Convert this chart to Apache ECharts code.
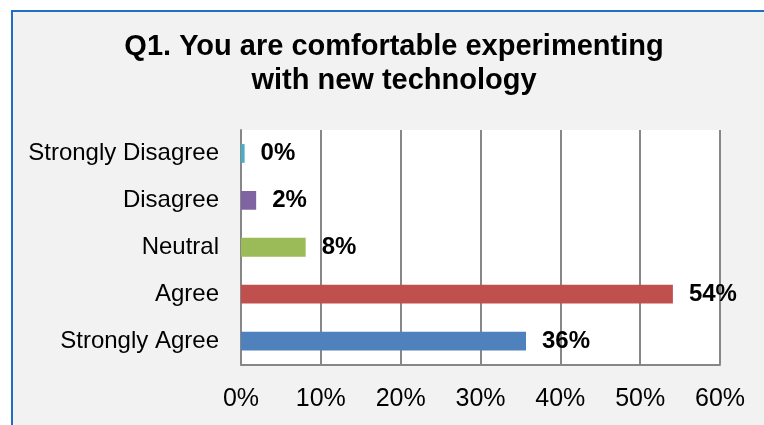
<!DOCTYPE html>
<html>
<head>
<meta charset="utf-8">
<style>
  html, body { margin: 0; padding: 0; background: #ffffff; }
  #chart { width: 764px; height: 425px; }
</style>
<script src="https://cdn.jsdelivr.net/npm/echarts@6/dist/echarts.min.js"></script>
</head>
<body>
<div id="chart"></div>
<script>
const titleText = 'Q1. You are comfortable experimenting\nwith new technology';
const categories = ['Strongly Agree', 'Agree', 'Neutral', 'Disagree', 'Strongly Disagree'];
const values = [35.7, 54.1, 8.1, 1.9, 0.45];
const barColors = ['#4f81bd', '#c0504d', '#9bbb59', '#8064a2', '#4bacc6'];
const tickValues = [0, 10, 20, 30, 40, 50, 60];

const FONT = "'Liberation Sans', Arial, sans-serif";
const chart = echarts.init(document.getElementById('chart'), null, { renderer: 'canvas' });

chart.setOption({
  backgroundColor: '#ffffff',
  animation: false,
  graphic: [{
    type: 'rect',
    z: -10,
    silent: true,
    shape: { x: 12, y: 11, width: 820, height: 480 },
    style: { fill: '#f2f2f2', stroke: '#1f6fc5', lineWidth: 2 }
  }],
  title: {
    text: titleText,
    left: 394,
    top: 30,
    textAlign: 'center',
    padding: 0,
    textStyle: {
      fontFamily: FONT,
      fontSize: 29,
      fontWeight: 'bold',
      color: '#000000',
      lineHeight: 34
    }
  },
  grid: {
    left: 241,
    right: 44,
    top: 130,
    bottom: 60.5,
    show: true,
    backgroundColor: '#ffffff',
    borderWidth: 0,
    containLabel: false
  },
  xAxis: {
    type: 'value',
    min: tickValues[0],
    max: tickValues[tickValues.length - 1],
    interval: 10,
    axisLine: { show: true, lineStyle: { color: '#878787', width: 2 } },
    axisTick: { show: false },
    splitLine: { show: true, lineStyle: { color: '#878787', width: 2 } },
    axisLabel: {
      margin: 22,
      fontFamily: FONT,
      fontSize: 25,
      color: '#000000',
      formatter: v => v + '%'
    }
  },
  yAxis: {
    type: 'category',
    data: categories,
    axisLine: { show: true, lineStyle: { color: '#878787', width: 2 } },
    axisTick: { show: false },
    splitLine: { show: false },
    axisLabel: {
      margin: 22,
      fontFamily: FONT,
      fontSize: 24,
      color: '#000000'
    }
  },
  series: [{
    type: 'bar',
    data: values.map((v, i) => ({ value: v, itemStyle: { color: barColors[i] } })),
    barWidth: '40%',
    label: {
      show: true,
      position: 'right',
      distance: 16,
      fontFamily: FONT,
      fontSize: 24,
      fontWeight: 'bold',
      color: '#000000',
      formatter: p => Math.round(p.value) + '%'
    }
  }]
});
</script>
</body>
</html>
